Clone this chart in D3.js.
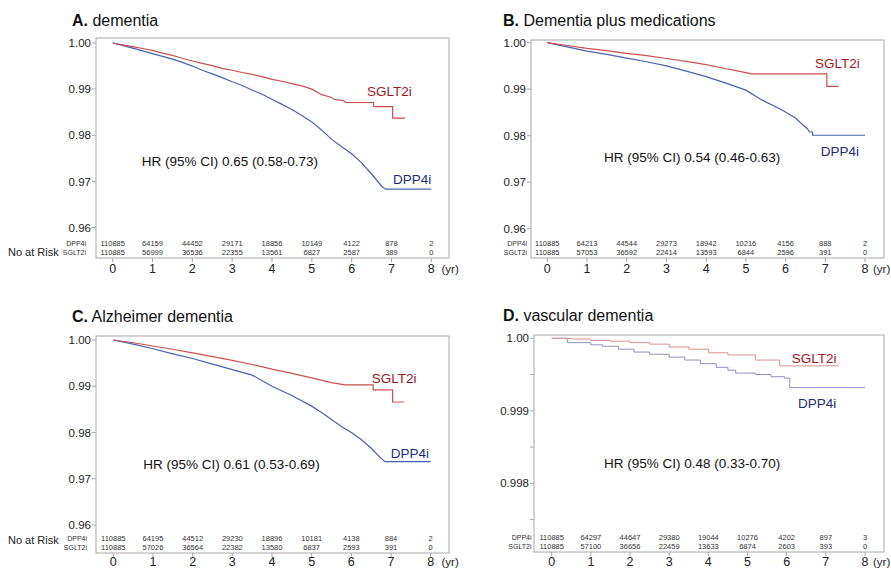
<!DOCTYPE html>
<html><head><meta charset="utf-8">
<script src="https://cdn.jsdelivr.net/npm/d3@7"></script>
<style>
body{margin:0;background:#fff}
svg{display:block}
text{font-family:"Liberation Sans",Arial,Helvetica,sans-serif}
</style>
</head><body>
<svg id="chart" width="891" height="569"></svg>
<script>
// ---------------- DATA ----------------
const years = [0,1,2,3,4,5,6,7,8];
const xTickLabels = ["0","1","2","3","4","5","6","7","8"];
const panelLetters = ["A.","B.","C.","D."];
const panelTitles = ["dementia","Dementia plus medications","Alzheimer dementia","vascular dementia"];
const hrLabels = ["HR (95% CI) 0.65 (0.58-0.73)","HR (95% CI) 0.54 (0.46-0.63)","HR (95% CI) 0.61 (0.53-0.69)","HR (95% CI) 0.48 (0.33-0.70)"];
const groupNames = ["DPP4i","SGLT2i"];

const yTicksABC = [1.00,0.99,0.98,0.97,0.96];
const yTickLabelsABC = ["1.00","0.99","0.98","0.97","0.96"];
const yTicksD = [1.000,0.999,0.998];
const yTickLabelsD = ["1.00","0.999","0.998"];
const yMinorTicksD = [0.9995,0.9985,0.9975];

const riskA_DPP4i  = [110885,64159,44452,29171,18856,10149,4122,878,2];
const riskA_SGLT2i = [110885,56999,36536,22355,13561,6827,2587,389,0];
const riskB_DPP4i  = [110885,64213,44544,29273,18942,10216,4156,888,2];
const riskB_SGLT2i = [110885,57053,36592,22414,13593,6844,2596,391,0];
const riskC_DPP4i  = [110885,64195,44512,29230,18896,10181,4138,884,2];
const riskC_SGLT2i = [110885,57026,36564,22382,13580,6837,2593,391,0];
const riskD_DPP4i  = [110885,64297,44647,29380,19044,10276,4202,897,3];
const riskD_SGLT2i = [110885,57100,36656,22459,13633,6874,2603,393,0];

// Kaplan-Meier curves: [time (yr), survival]; repeated times mark visible drops
const kmA_DPP4i = [[0,1],[0.25,0.9995],[0.5,0.9989],[0.75,0.9983],[1,0.9977],[1.25,0.9971],[1.5,0.9965],[1.75,0.9958],[2,0.995],[2.25,0.9941],[2.5,0.9933],[2.75,0.9925],[3,0.9916],[3.25,0.9908],[3.5,0.9898],[3.75,0.9889],[4,0.9878],[4.25,0.9867],[4.5,0.9856],[4.75,0.9843],[5,0.9829],[5.25,0.9811],[5.5,0.9791],[5.75,0.9775],[6,0.976],[6.25,0.974],[6.5,0.9716],[6.75,0.969],[6.85,0.9683],[8,0.9683]];
const kmA_SGLT2i = [[0,1],[0.25,0.9996],[0.5,0.9992],[0.75,0.9988],[1,0.9984],[1.25,0.9978],[1.5,0.9973],[1.75,0.9967],[2,0.9961],[2.25,0.9956],[2.5,0.9951],[2.75,0.9945],[3,0.9941],[3.25,0.9936],[3.5,0.9932],[3.75,0.9927],[4,0.9921],[4.25,0.9917],[4.5,0.9912],[4.75,0.9907],[5,0.99],[5.25,0.9888],[5.5,0.9882],[5.55,0.9878],[5.8,0.9875],[5.84,0.9871],[6.55,0.9871],[6.55,0.9862],[7.03,0.9862],[7.03,0.9837],[7.34,0.9837]];
const kmB_DPP4i = [[0,1],[0.5,0.9991],[1,0.9982],[1.5,0.9975],[2,0.9967],[2.5,0.9959],[3,0.995],[3.5,0.9939],[4,0.9927],[4.5,0.9913],[5,0.9898],[5.4,0.9877],[5.9,0.9856],[6.25,0.9838],[6.45,0.9822],[6.55,0.9815],[6.6,0.9808],[6.68,0.9808],[6.68,0.9801],[8,0.9801]];
const kmB_SGLT2i = [[0,1],[0.5,0.9994],[1,0.9988],[1.5,0.9983],[2,0.9977],[2.5,0.9972],[3,0.9966],[3.5,0.996],[4,0.9953],[4.5,0.9944],[4.75,0.994],[5.15,0.9933],[7.04,0.9933],[7.04,0.9906],[7.34,0.9906]];
const kmC_DPP4i = [[0,1],[0.5,0.9991],[1,0.9981],[1.5,0.997],[2,0.996],[2.5,0.9948],[3,0.9936],[3.5,0.9924],[4,0.99],[4.5,0.988],[5,0.9857],[5.25,0.9843],[5.5,0.9828],[5.75,0.9813],[6,0.98],[6.25,0.9785],[6.5,0.9766],[6.75,0.9744],[6.85,0.9737],[8,0.9737]];
const kmC_SGLT2i = [[0,1],[0.5,0.9994],[1,0.9987],[1.5,0.998],[2,0.9972],[2.5,0.9964],[3,0.9956],[3.5,0.9947],[4,0.9937],[4.5,0.9928],[5,0.9918],[5.5,0.9908],[5.84,0.9903],[6.55,0.9903],[6.55,0.9892],[7.04,0.9892],[7.04,0.9866],[7.32,0.9866]];
const kmD_DPP4i = [[0,1],[0.4,0.99994],[1,0.99991],[1.3,0.99989],[1.7,0.99985],[2.1,0.99981],[2.5,0.99978],[3,0.99974],[3.4,0.9997],[3.8,0.99965],[4.2,0.9996],[4.5,0.99956],[4.7,0.99952],[5.2,0.9995],[5.6,0.99947],[5.95,0.99945],[6.08,0.99932],[8,0.99932]];
const kmD_SGLT2i = [[0,1],[0.5,0.99999],[1,0.99997],[1.5,0.99996],[2,0.99994],[2.5,0.99992],[3,0.99988],[3.5,0.99985],[4,0.9998],[4.5,0.99977],[5.2,0.9997],[5.82,0.99962],[7.33,0.99962]];

// ---------------- LAYOUT ----------------
const panels = [
  {km:[kmA_DPP4i,kmA_SGLT2i], risk:[riskA_DPP4i,riskA_SGLT2i], box:{l:96,t:38,r:449,b:258},
   xr:[112.7,431.3], yd:[0.96,1.0], yr:[227.5,43], ticks:yTicksABC, tickLabels:yTickLabelsABC, minor:[],
   tickLabelRight:91, riskY:[245.8,254.8], riskLabelRight:86, noAtRisk:{x:8,y:256}, xLabY:272.5, yrX:441.5,
   title:{x:72,y:26}, sg:{x:367,y:96}, dp:{x:393,y:184}, hr:{x:141.7,y:166}, step:false, light:false},
  {km:[kmB_DPP4i,kmB_SGLT2i], risk:[riskB_DPP4i,riskB_SGLT2i], box:{l:531,t:40,r:884,b:258},
   xr:[547.3,865], yd:[0.96,1.0], yr:[228.7,42.7], ticks:yTicksABC, tickLabels:yTickLabelsABC, minor:[],
   tickLabelRight:526, riskY:[245.8,254.8], riskLabelRight:527, noAtRisk:null, xLabY:272.5, yrX:873,
   title:{x:503,y:26}, sg:{x:815,y:68}, dp:{x:820.7,y:156}, hr:{x:604,y:162}, step:false, light:false},
  {km:[kmC_DPP4i,kmC_SGLT2i], risk:[riskC_DPP4i,riskC_SGLT2i], box:{l:96,t:336,r:449,b:553},
   xr:[113.3,430.7], yd:[0.96,1.0], yr:[525,340], ticks:yTicksABC, tickLabels:yTickLabelsABC, minor:[],
   tickLabelRight:91, riskY:[540.5,549.5], riskLabelRight:87, noAtRisk:{x:8,y:543.5}, xLabY:566, yrX:441.5,
   title:{x:72,y:322}, sg:{x:371.7,y:383}, dp:{x:390.7,y:458}, hr:{x:143.3,y:468.5}, step:false, light:false},
  {km:[kmD_DPP4i,kmD_SGLT2i], risk:[riskD_DPP4i,riskD_SGLT2i], box:{l:534,t:335,r:884,b:552},
   xr:[551.7,865], yd:[0.998,1.0], yr:[483.3,338.3], ticks:yTicksD, tickLabels:yTickLabelsD, minor:yMinorTicksD,
   tickLabelRight:529, riskY:[539.5,549], riskLabelRight:531.5, noAtRisk:null, xLabY:566, yrX:873,
   title:{x:503,y:321}, sg:{x:791.7,y:363}, dp:{x:798,y:408}, hr:{x:604,y:468}, step:true, light:true}
];

const svg = d3.select("#chart");
const axisGray = "#a8a8a8";

panels.forEach((p,i) => {
  const g = svg.append("g");
  const x = d3.scaleLinear().domain([0,8]).range(p.xr);
  const y = d3.scaleLinear().domain(p.yd).range(p.yr);

  // title
  const t = g.append("text").attr("x",p.title.x).attr("y",p.title.y).attr("font-size",16).attr("fill","#111");
  t.append("tspan").attr("font-weight","bold").text(panelLetters[i]);
  t.append("tspan").text(" " + panelTitles[i]);

  // box
  g.append("rect").attr("x",p.box.l).attr("y",p.box.t).attr("width",p.box.r-p.box.l).attr("height",p.box.b-p.box.t)
    .attr("fill","none").attr("stroke",axisGray).attr("stroke-width",1);

  // y ticks
  p.ticks.forEach((v,k) => {
    g.append("line").attr("x1",p.box.l-4).attr("x2",p.box.l).attr("y1",y(v)).attr("y2",y(v)).attr("stroke",axisGray);
    g.append("text").attr("x",p.tickLabelRight).attr("y",y(v)).attr("dy","0.36em").attr("text-anchor","end")
      .attr("font-size",11.5).attr("fill","#222").text(p.tickLabels[k]);
  });
  p.minor.forEach(v => {
    g.append("line").attr("x1",p.box.l-4).attr("x2",p.box.l).attr("y1",y(v)).attr("y2",y(v)).attr("stroke",axisGray);
  });

  // x ticks
  years.forEach((yv,k) => {
    g.append("line").attr("x1",x(yv)).attr("x2",x(yv)).attr("y1",p.box.b).attr("y2",p.box.b+4).attr("stroke",axisGray);
    g.append("text").attr("x",x(yv)).attr("y",p.xLabY).attr("text-anchor","middle").attr("font-size",12.5).attr("fill","#222").text(xTickLabels[k]);
  });
  g.append("text").attr("x",p.yrX).attr("y",p.xLabY).attr("font-size",11.5).attr("fill","#222").text("(yr)");

  // risk table
  p.risk.forEach((row,r) => {
    g.append("text").attr("x",p.riskLabelRight).attr("y",p.riskY[r]).attr("text-anchor","end").attr("font-size",7).attr("fill","#333").text(groupNames[r]);
    row.forEach((n,k) => {
      g.append("text").attr("x",x(years[k])).attr("y",p.riskY[r]).attr("text-anchor","middle").attr("font-size",7.5).attr("fill","#333").text(n);
    });
  });
  if (p.noAtRisk) {
    g.append("text").attr("x",p.noAtRisk.x).attr("y",p.noAtRisk.y).attr("font-size",11).attr("fill","#222").text("No at Risk");
  }

  // curves
  const line = d3.line().x(d => x(d[0])).y(d => y(d[1])).curve(p.step ? d3.curveStepAfter : d3.curveLinear);
  const colors = p.light ? ["#8f8fc6","#d99090"] : ["#4a62ae","#c75050"];
  p.km.forEach((data,s) => {
    g.append("path").datum(data).attr("d",line).attr("fill","none").attr("stroke",colors[s]).attr("stroke-width",p.light?1:1.2);
  });

  // labels
  g.append("text").attr("x",p.sg.x).attr("y",p.sg.y).attr("font-size",13.5).attr("fill","#a3181c").text("SGLT2i");
  g.append("text").attr("x",p.dp.x).attr("y",p.dp.y).attr("font-size",13.5).attr("fill","#1f2b78").text("DPP4i");
  g.append("text").attr("x",p.hr.x).attr("y",p.hr.y).attr("font-size",13.5).attr("fill","#111").text(hrLabels[i]);
});
</script>
</body></html>
